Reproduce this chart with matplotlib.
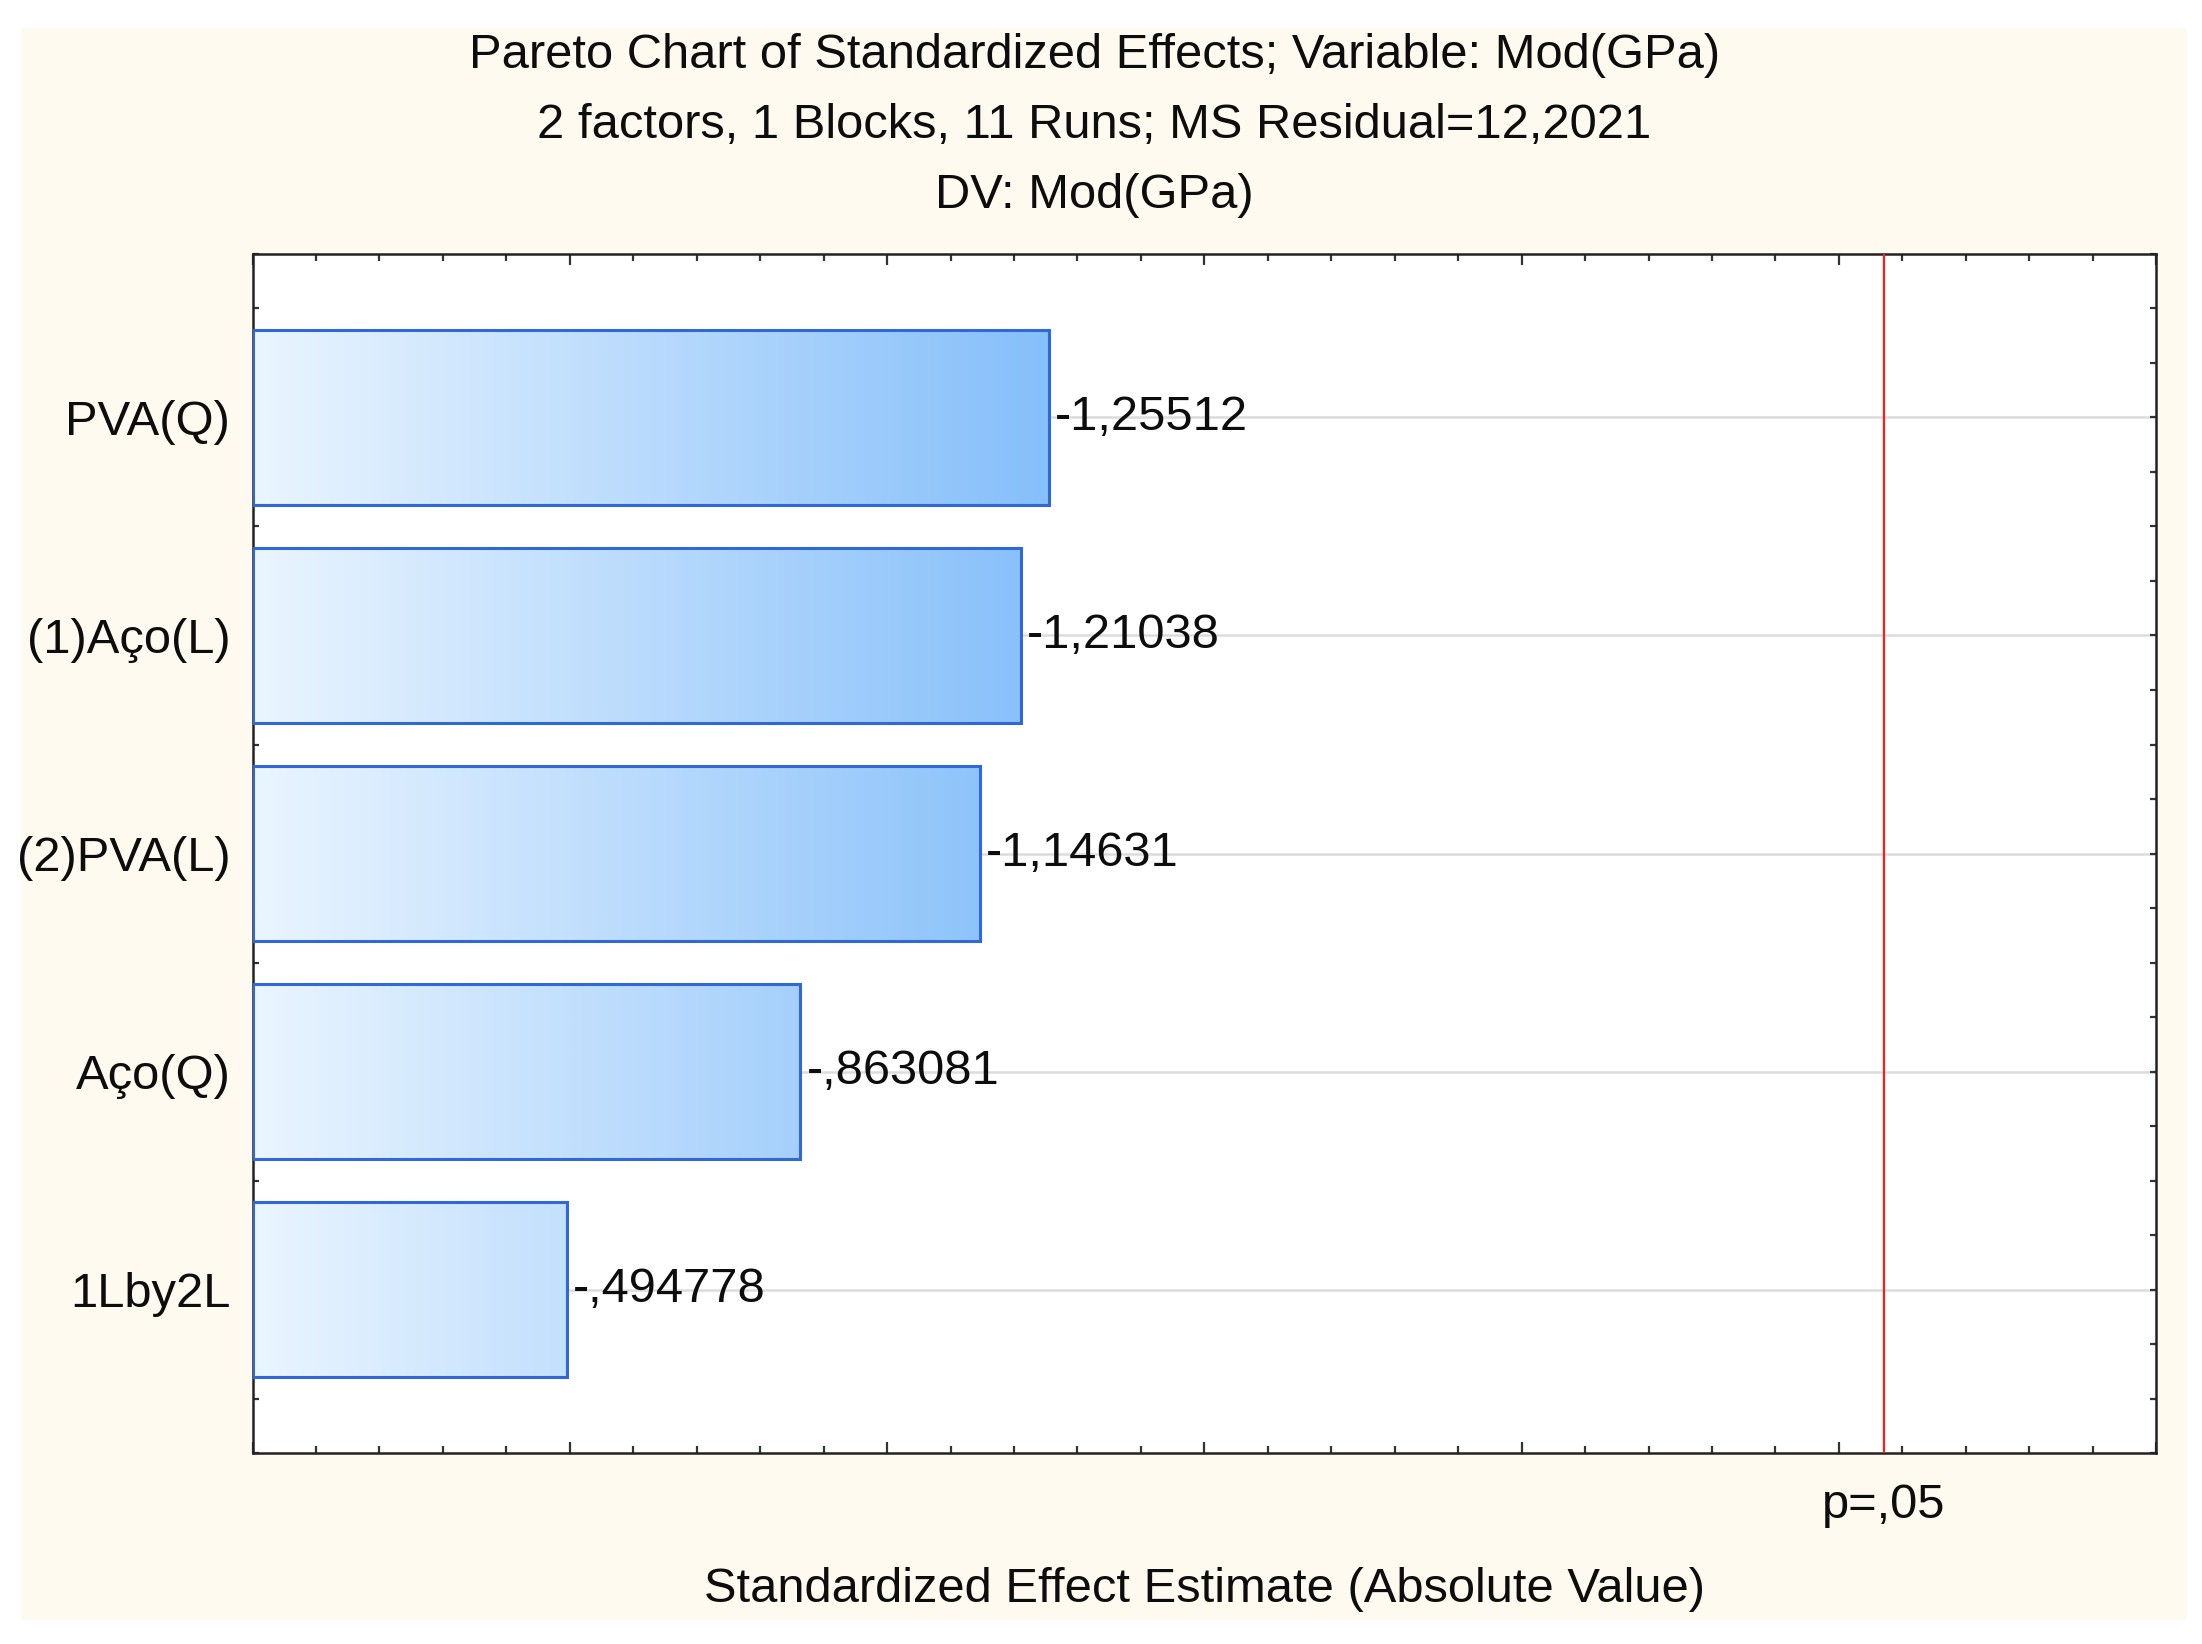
import numpy as np
import matplotlib
matplotlib.use("Agg")
import matplotlib.pyplot as plt
from matplotlib.colors import LinearSegmentedColormap, Normalize
from matplotlib.patches import Rectangle
from matplotlib.ticker import MultipleLocator

plt.rcParams['font.family'] = ['Liberation Sans', 'DejaVu Sans']

# data (Statistica pareto of standardized effects)
factors = ["PVA(Q)", "(1)Aço(L)", "(2)PVA(L)", "Aço(Q)", "1Lby2L"]
effects = [-1.25512, -1.21038, -1.14631, -0.863081, -0.494778]
p_crit = 2.570582
p_label = "p=,05"
title_lines = ["Pareto Chart of Standardized Effects; Variable: Mod(GPa)",
               "2 factors, 1 Blocks, 11 Runs; MS Residual=12,2021",
               "DV: Mod(GPa)"]
xlabel = "Standardized Effect Estimate (Absolute Value)"


def fmt(v):
    # statistica style: 6 significant digits, comma decimal, no leading zero
    s = f"{v:.6g}"
    s = s.replace("-0.", "-.").replace("0.", ".", 1) if abs(v) < 1 else s
    return s.replace(".", ",")


widths = np.abs(effects)
pos = np.arange(len(factors))
txt = '#0d0d0d'
fs = 17.6

ax_l, ax_b, ax_w, ax_h = 0.1147, 0.116, 0.8645, 0.7296

fig = plt.figure(figsize=(11.01, 8.22), dpi=200, facecolor='white')
fig.patches.append(Rectangle((0.0095, 0.0146), 0.9835, 0.9684, transform=fig.transFigure,
                             facecolor='#FEFAEF', edgecolor='none', zorder=-5))
ax = fig.add_axes([ax_l, ax_b, ax_w, ax_h])
ax.set_facecolor('white')

cmap = LinearSegmentedColormap.from_list('bluegrad', ['#EAF5FF', '#86BFFA'])
norm = Normalize(0, widths.max())
h = 0.8
for y, w in zip(pos, widths):
    grad = np.linspace(0, w, 256).reshape(1, -1)
    ax.imshow(grad, extent=[0, w, y + h / 2, y - h / 2], cmap=cmap, norm=norm,
              aspect='auto', interpolation='bilinear', zorder=2)
ax.barh(pos, widths, height=h, facecolor='none', edgecolor='#3068D8', linewidth=1.1, zorder=3)

for y, w, v in zip(pos, widths, effects):
    ax.text(w + 0.01, y, fmt(v), ha='left', va='center', fontsize=fs, color=txt, zorder=4)

ax.axvline(p_crit, color='#FF1A1A', linewidth=0.8, zorder=3)

ax.set_xlim(0, 3)
ax.set_ylim(len(factors) - 0.25, -0.75)
ax.set_yticks(pos)
ax.set_yticklabels(factors, fontsize=fs, color=txt)
ax.yaxis.set_minor_locator(MultipleLocator(0.25))
ax.xaxis.set_major_locator(MultipleLocator(0.5))
ax.xaxis.set_minor_locator(MultipleLocator(0.1))
ax.set_xticklabels([])
ax.tick_params(axis='both', which='both', direction='in', top=True, right=True,
               color='#333333', width=0.8)
ax.tick_params(axis='x', which='major', length=4)
ax.tick_params(axis='x', which='minor', length=2.5)
ax.tick_params(axis='y', which='both', length=2.2, pad=8)
ax.set_axisbelow(True)
ax.yaxis.grid(True, which='major', color='#DCDCDC', linewidth=0.9)
for s in ax.spines.values():
    s.set_color('#222222')
    s.set_linewidth(0.9)

for i, line in enumerate(title_lines):
    fig.text(0.497, 0.966 - i * 0.0425, line, ha='center', va='center', fontsize=fs, color=txt)
p_x = ax_l + ax_w * p_crit / ax.get_xlim()[1]
fig.text(p_x, 0.084, p_label, ha='center', va='center', fontsize=fs, color=txt)
fig.text(ax_l + ax_w / 2, 0.0329, xlabel, ha='center', va='center', fontsize=fs, color=txt)

fig.savefig('out.png', dpi=200, facecolor='white')
